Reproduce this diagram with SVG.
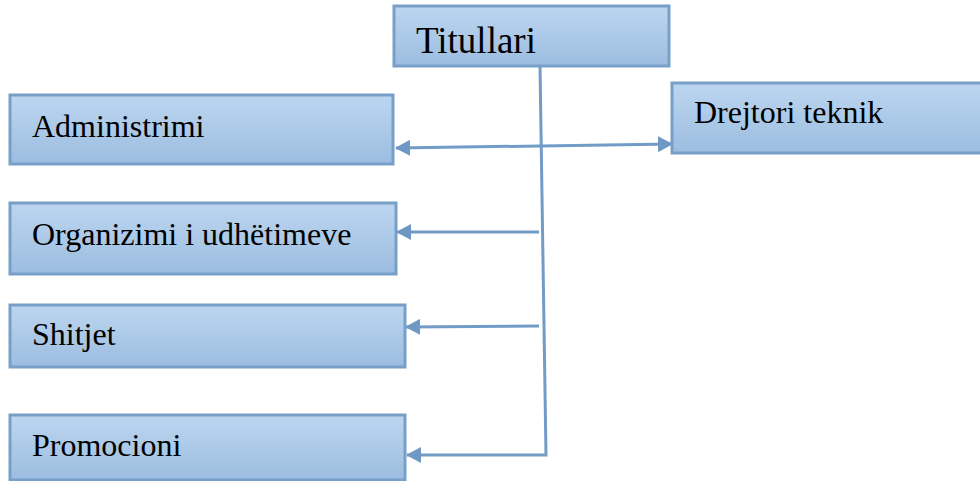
<svg xmlns="http://www.w3.org/2000/svg" width="980" height="481" viewBox="0 0 980 481">
  <defs>
    <linearGradient id="boxFill" x1="0" y1="0" x2="0" y2="1">
      <stop offset="0" stop-color="#bcd6f0"/>
      <stop offset="1" stop-color="#9cbde0"/>
    </linearGradient>
    <marker id="arrow" viewBox="0 0 15 16" refX="14" refY="8" markerWidth="15" markerHeight="16" markerUnits="userSpaceOnUse" orient="auto-start-reverse">
      <path d="M0,0 L15,8 L0,16 Z" fill="#6f98c4"/>
    </marker>
  </defs>
  <style>
    .box { fill: url(#boxFill); stroke: #789fc8; stroke-width: 3; }
    .label { font-family: "Liberation Serif", "Times New Roman", serif; font-size: 32px; fill: #000; }
    .title { font-size: 37px; }
    .link { fill: none; stroke: #729bc6; stroke-width: 3; }
  </style>

  <rect width="980" height="481" fill="#ffffff"/>

  <g id="connectors">
    <!-- trunk from Titullari down to Promocioni -->
    <polyline class="link" points="540,66 546,455 407,455" marker-end="url(#arrow)"/>
    <line class="link" x1="539" y1="232" x2="397" y2="232" marker-end="url(#arrow)"/>
    <line class="link" x1="539" y1="326" x2="406" y2="327" marker-end="url(#arrow)"/>
    <!-- two-way link Administrimi <-> Drejtori teknik -->
    <line class="link" x1="396" y1="148" x2="672" y2="144" marker-start="url(#arrow)" marker-end="url(#arrow)"/>
  </g>

  <g id="node-titullari">
    <rect class="box" x="394" y="6" width="275" height="60"/>
    <text class="label title" x="416" y="53">Titullari</text>
  </g>

  <g id="node-administrimi">
    <rect class="box" x="10" y="95" width="383" height="69"/>
    <text class="label" x="32" y="137">Administrimi</text>
  </g>

  <g id="node-drejtori">
    <rect class="box" x="672" y="83" width="310" height="70"/>
    <text class="label" x="694" y="123">Drejtori teknik</text>
  </g>

  <g id="node-organizimi">
    <rect class="box" x="10" y="203" width="386" height="71"/>
    <text class="label" x="32" y="245">Organizimi i udhëtimeve</text>
  </g>

  <g id="node-shitjet">
    <rect class="box" x="10" y="305" width="395" height="62"/>
    <text class="label" x="32" y="345">Shitjet</text>
  </g>

  <g id="node-promocioni">
    <rect class="box" x="10" y="415" width="395" height="65"/>
    <text class="label" x="32" y="456">Promocioni</text>
  </g>
</svg>
